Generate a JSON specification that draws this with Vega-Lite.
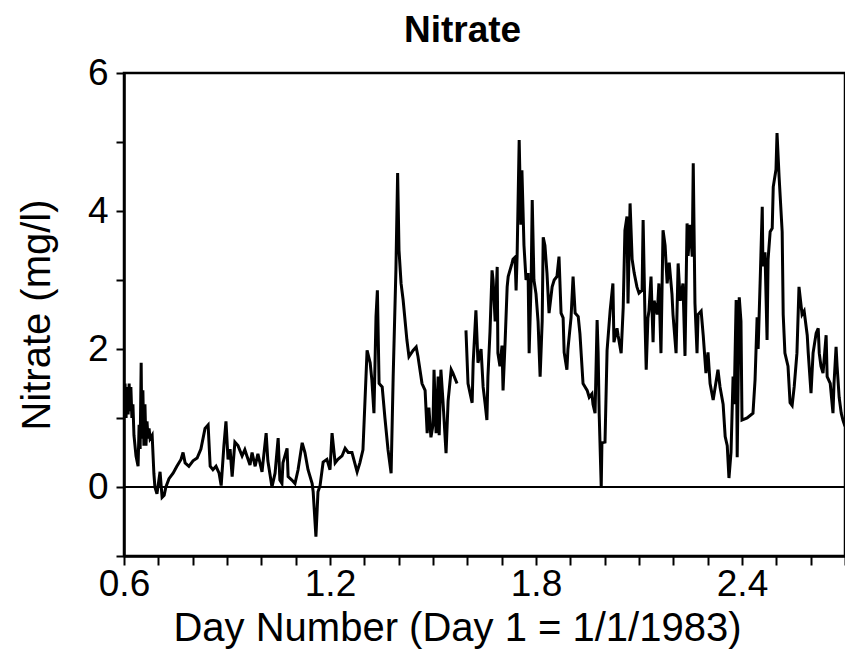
{
  "$schema": "https://vega.github.io/schema/vega-lite/v6.json",
  "width": 721,
  "height": 483,
  "autosize": {"type": "none"},
  "padding": {"left": 124, "top": 73, "right": 0, "bottom": 106},
  "background": "white",
  "config": {
    "font": "Liberation Sans",
    "view": {"stroke": "black", "strokeWidth": 2.5},
    "axis": {"grid": false, "domainColor": "black", "domainWidth": 2.5, "tickColor": "black", "tickWidth": 2, "labelColor": "black", "titleColor": "black", "labelFont": "Liberation Sans", "titleFont": "Liberation Sans", "labelFontSize": 37, "titleFontSize": 40, "titleFontWeight": "normal"}
  },
  "title": {"text": "Nitrate", "font": "Liberation Sans", "fontSize": 37, "fontWeight": "bold", "color": "black", "anchor": "middle", "frame": "group", "dx": -22, "offset": 4},
  "data": {"values": [
    {"d":0.603,"v":1.5,"s":1},{"d":0.606,"v":1.0,"s":1},{"d":0.609,"v":1.45,"s":1},{"d":0.612,"v":1.05,"s":1},{"d":0.615,"v":1.5,"s":1},{"d":0.617,"v":1.1,"s":1},{"d":0.620,"v":1.45,"s":1},{"d":0.623,"v":1.0,"s":1},{"d":0.626,"v":1.2,"s":1},{"d":0.629,"v":0.75,"s":1},
    {"d":0.635,"v":0.45,"s":1},{"d":0.641,"v":0.3,"s":1},{"d":0.644,"v":0.9,"s":1},{"d":0.647,"v":0.55,"s":1},{"d":0.650,"v":1.8,"s":1},{"d":0.652,"v":0.7,"s":1},{"d":0.655,"v":1.4,"s":1},{"d":0.658,"v":0.6,"s":1},{"d":0.661,"v":1.2,"s":1},{"d":0.664,"v":0.6,"s":1},
    {"d":0.667,"v":0.95,"s":1},{"d":0.670,"v":0.7,"s":1},{"d":0.673,"v":0.85,"s":1},{"d":0.676,"v":0.7,"s":1},{"d":0.682,"v":0.75,"s":1},{"d":0.687,"v":0.2,"s":1},{"d":0.690,"v":0.0,"s":1},{"d":0.696,"v":-0.1,"s":1},{"d":0.705,"v":0.22,"s":1},{"d":0.711,"v":-0.15,"s":1},
    {"d":0.717,"v":-0.12,"s":1},{"d":0.722,"v":0.0,"s":1},{"d":0.731,"v":0.12,"s":1},{"d":0.743,"v":0.2,"s":1},{"d":0.754,"v":0.3,"s":1},{"d":0.766,"v":0.4,"s":1},{"d":0.772,"v":0.5,"s":1},{"d":0.778,"v":0.35,"s":1},{"d":0.789,"v":0.3,"s":1},{"d":0.801,"v":0.38,"s":1},
    {"d":0.813,"v":0.42,"s":1},{"d":0.824,"v":0.55,"s":1},{"d":0.836,"v":0.85,"s":1},{"d":0.845,"v":0.9,"s":1},{"d":0.851,"v":0.3,"s":1},{"d":0.859,"v":0.25,"s":1},{"d":0.868,"v":0.3,"s":1},{"d":0.877,"v":0.2,"s":1},{"d":0.883,"v":0.02,"s":1},{"d":0.891,"v":0.6,"s":1},
    {"d":0.897,"v":0.95,"s":1},{"d":0.903,"v":0.4,"s":1},{"d":0.909,"v":0.55,"s":1},{"d":0.915,"v":0.15,"s":1},{"d":0.923,"v":0.65,"s":1},{"d":0.932,"v":0.6,"s":1},{"d":0.944,"v":0.45,"s":1},{"d":0.952,"v":0.54,"s":1},{"d":0.958,"v":0.45,"s":1},{"d":0.967,"v":0.32,"s":1},
    {"d":0.973,"v":0.5,"s":1},{"d":0.982,"v":0.3,"s":1},{"d":0.990,"v":0.48,"s":1},{"d":1.002,"v":0.22,"s":1},{"d":1.014,"v":0.78,"s":1},{"d":1.019,"v":0.38,"s":1},{"d":1.031,"v":0.0,"s":1},{"d":1.040,"v":0.2,"s":1},{"d":1.049,"v":0.71,"s":1},{"d":1.054,"v":0.1,"s":1},
    {"d":1.060,"v":0.05,"s":1},{"d":1.063,"v":0.35,"s":1},{"d":1.075,"v":0.56,"s":1},{"d":1.078,"v":0.15,"s":1},{"d":1.089,"v":0.1,"s":1},{"d":1.098,"v":0.05,"s":1},{"d":1.107,"v":0.25,"s":1},{"d":1.119,"v":0.64,"s":1},{"d":1.127,"v":0.5,"s":1},{"d":1.136,"v":0.25,"s":1},
    {"d":1.148,"v":0.05,"s":1},{"d":1.151,"v":-0.07,"s":1},{"d":1.159,"v":-0.72,"s":1},{"d":1.165,"v":-0.07,"s":1},{"d":1.171,"v":0.02,"s":1},{"d":1.180,"v":0.36,"s":1},{"d":1.191,"v":0.4,"s":1},{"d":1.200,"v":0.25,"s":1},{"d":1.206,"v":0.78,"s":1},{"d":1.215,"v":0.35,"s":1},
    {"d":1.223,"v":0.4,"s":1},{"d":1.235,"v":0.45,"s":1},{"d":1.244,"v":0.56,"s":1},{"d":1.253,"v":0.5,"s":1},{"d":1.264,"v":0.5,"s":1},{"d":1.279,"v":0.22,"s":1},{"d":1.287,"v":0.35,"s":1},{"d":1.296,"v":0.54,"s":1},{"d":1.302,"v":1.26,"s":1},{"d":1.308,"v":1.98,"s":1},
    {"d":1.317,"v":1.8,"s":1},{"d":1.322,"v":1.55,"s":1},{"d":1.328,"v":1.07,"s":1},{"d":1.334,"v":2.47,"s":1},{"d":1.338,"v":2.85,"s":1},{"d":1.343,"v":1.5,"s":1},{"d":1.352,"v":1.45,"s":1},{"d":1.360,"v":1.0,"s":1},{"d":1.369,"v":0.54,"s":1},{"d":1.378,"v":0.2,"s":1},
    {"d":1.384,"v":1.6,"s":1},{"d":1.392,"v":3.15,"s":1},{"d":1.397,"v":4.55,"s":1},{"d":1.401,"v":3.43,"s":1},{"d":1.407,"v":2.95,"s":1},{"d":1.413,"v":2.71,"s":1},{"d":1.424,"v":2.13,"s":1},{"d":1.430,"v":1.89,"s":1},{"d":1.442,"v":1.98,"s":1},{"d":1.451,"v":2.03,"s":1},
    {"d":1.456,"v":1.9,"s":1},{"d":1.468,"v":1.5,"s":1},{"d":1.477,"v":1.4,"s":1},{"d":1.483,"v":0.78,"s":1},{"d":1.488,"v":1.15,"s":1},{"d":1.494,"v":0.72,"s":1},{"d":1.500,"v":0.9,"s":1},{"d":1.503,"v":1.7,"s":1},{"d":1.509,"v":0.78,"s":1},{"d":1.515,"v":1.6,"s":1},
    {"d":1.518,"v":0.75,"s":1},{"d":1.523,"v":1.7,"s":1},{"d":1.529,"v":1.25,"s":1},{"d":1.538,"v":0.49,"s":1},{"d":1.544,"v":1.25,"s":1},{"d":1.553,"v":1.7,"s":1},{"d":1.558,"v":1.65,"s":1},{"d":1.570,"v":1.5,"s":1},
    {"d":1.596,"v":2.27,"s":2},{"d":1.602,"v":1.5,"s":2},{"d":1.614,"v":1.22,"s":2},{"d":1.617,"v":1.8,"s":2},{"d":1.625,"v":2.56,"s":2},{"d":1.631,"v":1.8,"s":2},{"d":1.640,"v":2.0,"s":2},{"d":1.646,"v":1.45,"s":2},{"d":1.652,"v":1.2,"s":2},{"d":1.657,"v":0.97,"s":2},
    {"d":1.660,"v":1.6,"s":2},{"d":1.666,"v":2.25,"s":2},{"d":1.672,"v":3.14,"s":2},{"d":1.675,"v":3.0,"s":2},{"d":1.681,"v":2.4,"s":2},{"d":1.687,"v":3.19,"s":2},{"d":1.689,"v":1.94,"s":2},{"d":1.695,"v":1.75,"s":2},{"d":1.701,"v":2.05,"s":2},{"d":1.704,"v":1.4,"s":2},
    {"d":1.710,"v":2.1,"s":2},{"d":1.716,"v":2.9,"s":2},{"d":1.719,"v":3.05,"s":2},{"d":1.730,"v":3.24,"s":2},{"d":1.733,"v":3.3,"s":2},{"d":1.739,"v":3.33,"s":2},{"d":1.742,"v":2.85,"s":2},{"d":1.745,"v":3.35,"s":2},{"d":1.751,"v":5.03,"s":2},{"d":1.756,"v":3.8,"s":2},
    {"d":1.759,"v":4.59,"s":2},{"d":1.765,"v":3.5,"s":2},{"d":1.771,"v":3.0,"s":2},{"d":1.777,"v":3.1,"s":2},{"d":1.780,"v":1.94,"s":2},{"d":1.786,"v":3.0,"s":2},{"d":1.789,"v":4.16,"s":2},{"d":1.794,"v":3.0,"s":2},{"d":1.800,"v":2.8,"s":2},{"d":1.806,"v":2.4,"s":2},
    {"d":1.812,"v":1.6,"s":2},{"d":1.818,"v":2.4,"s":2},{"d":1.821,"v":3.62,"s":2},{"d":1.826,"v":3.5,"s":2},{"d":1.832,"v":3.1,"s":2},{"d":1.838,"v":2.52,"s":2},{"d":1.847,"v":2.9,"s":2},{"d":1.853,"v":3.0,"s":2},{"d":1.861,"v":3.05,"s":2},{"d":1.867,"v":3.34,"s":2},
    {"d":1.873,"v":2.52,"s":2},{"d":1.879,"v":2.45,"s":2},{"d":1.882,"v":1.95,"s":2},{"d":1.890,"v":1.7,"s":2},{"d":1.893,"v":2.0,"s":2},{"d":1.902,"v":2.45,"s":2},{"d":1.908,"v":3.05,"s":2},{"d":1.914,"v":2.52,"s":2},{"d":1.923,"v":2.47,"s":2},{"d":1.928,"v":2.22,"s":2},
    {"d":1.937,"v":1.5,"s":2},{"d":1.943,"v":1.45,"s":2},{"d":1.949,"v":1.4,"s":2},{"d":1.955,"v":1.3,"s":2},{"d":1.963,"v":1.35,"s":2},{"d":1.966,"v":1.2,"s":2},{"d":1.972,"v":1.07,"s":2},{"d":1.978,"v":2.42,"s":2},{"d":1.981,"v":1.94,"s":2},{"d":1.984,"v":1.07,"s":2},
    {"d":1.990,"v":0.0,"s":2},{"d":1.992,"v":0.64,"s":2},{"d":2.001,"v":0.65,"s":2},{"d":2.007,"v":1.98,"s":2},{"d":2.016,"v":2.56,"s":2},{"d":2.024,"v":2.95,"s":2},{"d":2.027,"v":2.1,"s":2},{"d":2.036,"v":2.3,"s":2},{"d":2.039,"v":2.2,"s":2},{"d":2.048,"v":1.94,"s":2},
    {"d":2.054,"v":2.6,"s":2},{"d":2.059,"v":3.72,"s":2},{"d":2.065,"v":3.92,"s":2},{"d":2.068,"v":2.66,"s":2},{"d":2.074,"v":4.11,"s":2},{"d":2.080,"v":3.3,"s":2},{"d":2.086,"v":3.1,"s":2},{"d":2.094,"v":2.9,"s":2},{"d":2.100,"v":2.81,"s":2},{"d":2.109,"v":2.85,"s":2},
    {"d":2.112,"v":3.87,"s":2},{"d":2.118,"v":2.3,"s":2},{"d":2.121,"v":1.7,"s":2},{"d":2.126,"v":2.45,"s":2},{"d":2.129,"v":2.55,"s":2},{"d":2.135,"v":3.05,"s":2},{"d":2.141,"v":2.1,"s":2},{"d":2.144,"v":2.7,"s":2},{"d":2.153,"v":2.5,"s":2},{"d":2.158,"v":2.95,"s":2},
    {"d":2.164,"v":1.94,"s":2},{"d":2.170,"v":3.72,"s":2},{"d":2.176,"v":3.5,"s":2},{"d":2.182,"v":2.95,"s":2},{"d":2.188,"v":3.25,"s":2},{"d":2.196,"v":2.8,"s":2},{"d":2.199,"v":2.5,"s":2},{"d":2.208,"v":1.94,"s":2},{"d":2.214,"v":3.24,"s":2},{"d":2.220,"v":2.7,"s":2},
    {"d":2.228,"v":2.95,"s":2},{"d":2.234,"v":1.9,"s":2},{"d":2.240,"v":3.82,"s":2},{"d":2.243,"v":3.35,"s":2},{"d":2.249,"v":3.8,"s":2},{"d":2.255,"v":3.34,"s":2},{"d":2.258,"v":4.69,"s":2},{"d":2.263,"v":2.66,"s":2},{"d":2.269,"v":1.94,"s":2},{"d":2.272,"v":2.5,"s":2},
    {"d":2.281,"v":2.55,"s":2},{"d":2.287,"v":2.2,"s":2},{"d":2.295,"v":1.65,"s":2},{"d":2.301,"v":1.95,"s":2},{"d":2.307,"v":1.5,"s":2},{"d":2.316,"v":1.26,"s":2},{"d":2.322,"v":1.45,"s":2},{"d":2.330,"v":1.7,"s":2},{"d":2.336,"v":1.45,"s":2},{"d":2.345,"v":1.2,"s":2},
    {"d":2.351,"v":0.73,"s":2},{"d":2.357,"v":0.6,"s":2},{"d":2.362,"v":0.13,"s":2},{"d":2.368,"v":0.5,"s":2},{"d":2.374,"v":1.6,"s":2},{"d":2.377,"v":1.2,"s":2},{"d":2.383,"v":2.71,"s":2},{"d":2.386,"v":0.43,"s":2},{"d":2.392,"v":2.75,"s":2},{"d":2.397,"v":2.4,"s":2},
    {"d":2.400,"v":0.97,"s":2},{"d":2.415,"v":1.0,"s":2},{"d":2.432,"v":1.07,"s":2},{"d":2.438,"v":1.55,"s":2},{"d":2.444,"v":2.46,"s":2},{"d":2.447,"v":2.0,"s":2},{"d":2.453,"v":3.0,"s":2},{"d":2.459,"v":4.06,"s":2},{"d":2.461,"v":3.2,"s":2},{"d":2.467,"v":3.4,"s":2},
    {"d":2.473,"v":2.13,"s":2},{"d":2.476,"v":3.3,"s":2},{"d":2.482,"v":3.7,"s":2},{"d":2.488,"v":3.75,"s":2},{"d":2.491,"v":4.35,"s":2},{"d":2.499,"v":4.6,"s":2},{"d":2.502,"v":5.13,"s":2},{"d":2.508,"v":4.5,"s":2},{"d":2.517,"v":3.7,"s":2},{"d":2.520,"v":2.5,"s":2},
    {"d":2.525,"v":1.94,"s":2},{"d":2.534,"v":1.75,"s":2},{"d":2.540,"v":1.22,"s":2},{"d":2.546,"v":1.18,"s":2},{"d":2.552,"v":1.45,"s":2},{"d":2.560,"v":1.94,"s":2},{"d":2.566,"v":2.9,"s":2},{"d":2.575,"v":2.5,"s":2},{"d":2.581,"v":2.55,"s":2},{"d":2.590,"v":2.2,"s":2},
    {"d":2.593,"v":1.94,"s":2},{"d":2.601,"v":1.36,"s":2},{"d":2.607,"v":1.94,"s":2},{"d":2.616,"v":2.23,"s":2},{"d":2.622,"v":2.3,"s":2},{"d":2.625,"v":1.94,"s":2},{"d":2.630,"v":1.75,"s":2},{"d":2.636,"v":1.65,"s":2},{"d":2.645,"v":2.2,"s":2},{"d":2.648,"v":1.6,"s":2},
    {"d":2.657,"v":1.5,"s":2},{"d":2.665,"v":1.07,"s":2},{"d":2.668,"v":1.5,"s":2},{"d":2.674,"v":2.03,"s":2},{"d":2.677,"v":1.75,"s":2},{"d":2.683,"v":1.3,"s":2},{"d":2.689,"v":1.07,"s":2},{"d":2.694,"v":0.97,"s":2},{"d":2.700,"v":0.88,"s":2}
  ]},
  "layer": [
    {
      "mark": {"type": "rule", "color": "black", "strokeWidth": 2},
      "encoding": {"y": {"datum": 0, "type": "quantitative"}}
    },
    {
      "mark": {"type": "line", "color": "black", "strokeWidth": 3, "strokeJoin": "miter", "clip": true},
      "encoding": {
        "x": {"field": "d", "type": "quantitative",
          "scale": {"domain": [0.6, 2.7], "nice": false, "zero": false},
          "axis": {"title": "Day Number (Day 1 = 1/1/1983)",
            "values": [0.6,0.7,0.8,0.9,1.0,1.1,1.2,1.3,1.4,1.5,1.6,1.7,1.8,1.9,2.0,2.1,2.2,2.3,2.4,2.5,2.6,2.7],
            "labelExpr": "indexof(['0.6','1.2','1.8','2.4'], format(datum.value, '.1f')) >= 0 ? format(datum.value, '.1f') : ''",
            "tickSize": 9, "labelPadding": 1, "labelFlush": false, "labelOverlap": false,
            "titleX": 333, "titleY": 84, "titleBaseline": "alphabetic", "titleAnchor": "middle"}},
        "y": {"field": "v", "type": "quantitative",
          "scale": {"domain": [-1, 6], "nice": false, "zero": false},
          "axis": {"title": "Nitrate (mg/l)",
            "values": [-1,0,1,2,3,4,5,6],
            "format": "d",
            "labelExpr": "datum.value % 2 === 0 ? datum.label : ''",
            "tickSize": 8, "labelPadding": 8, "labelFlush": false, "labelOverlap": false,
            "titlePadding": 30}},
        "detail": {"field": "s", "type": "nominal"}
      }
    }
  ]
}
